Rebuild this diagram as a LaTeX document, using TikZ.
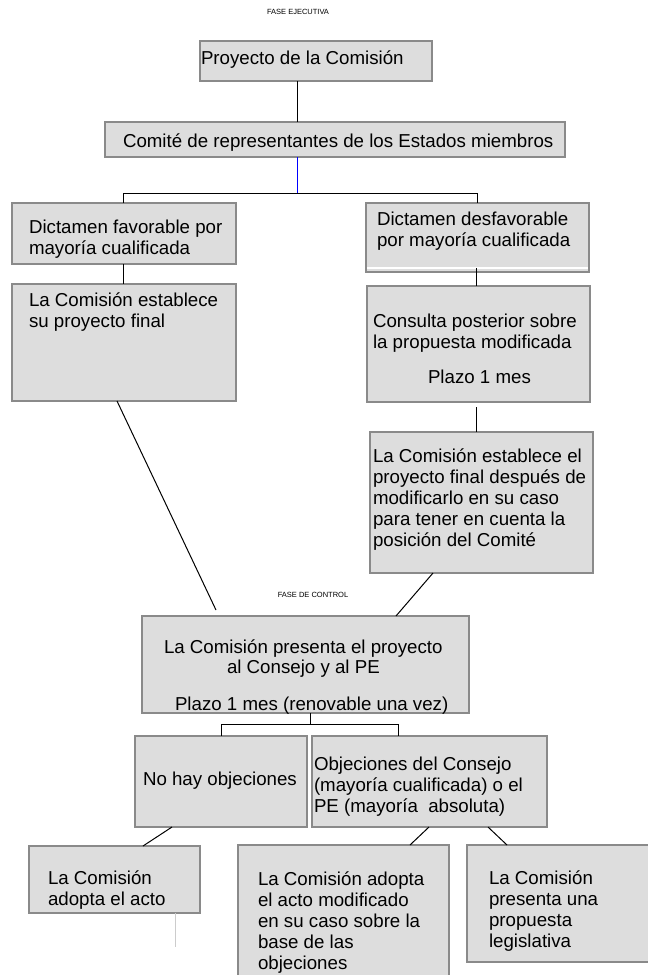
\documentclass[tikz,border=0pt]{standalone}
\usepackage{fontspec}
\setmainfont{Liberation Sans}
\definecolor{boxgray}{HTML}{DDDDDD}
\definecolor{edgegray}{HTML}{8A8A8A}
\definecolor{faintgray}{HTML}{CCCCCC}
\tikzset{
  box/.style={draw=edgegray, line width=1.3pt, fill=boxgray, rectangle, inner sep=0pt, outer sep=0pt, anchor=north west},
  txt/.style={anchor=base west, inner sep=0pt, outer sep=0pt, align=left, font=\fontsize{18.7}{21}\selectfont},
  small/.style={inner sep=0pt, font=\fontsize{7.5}{9}\selectfont},
  conn/.style={draw=black, line width=1pt},
  blueconn/.style={draw=blue, line width=1pt},
  faint/.style={draw=faintgray, line width=0.8pt}
}
\begin{document}
\begin{tikzpicture}[x=1pt,y=-1pt]
\useasboundingbox (0,0) rectangle (648,975);
% boxes
\node[box, minimum width=232pt, minimum height=40pt] (b1) at (200,41) {};
\node[box, minimum width=460pt, minimum height=35pt] (b2) at (105,122) {};
\node[box, minimum width=224pt, minimum height=61pt] (b3) at (12,203) {};
\node[box, minimum width=223pt, minimum height=69pt] (b4) at (366,203) {};
\node[box, minimum width=224pt, minimum height=117pt] (b5) at (12,284) {};
\node[box, minimum width=223pt, minimum height=116pt] (b6) at (367,286) {};
\node[box, minimum width=223pt, minimum height=141pt] (b7) at (370,432) {};
\node[box, minimum width=327pt, minimum height=97pt] (b8) at (142,616) {};
\node[box, minimum width=172pt, minimum height=91pt] (b9) at (135,736) {};
\node[box, minimum width=235pt, minimum height=91pt] (b10) at (312,736) {};
\node[box, minimum width=171pt, minimum height=67pt] (b11) at (29,846) {};
\node[box, minimum width=211pt, minimum height=145pt] (b12) at (238,845) {};
\node[box, minimum width=195pt, minimum height=117pt] (b13) at (467,845) {};
% white stripe inside b4
\draw[white, line width=1.2pt] ([xshift=0.8pt,yshift=4pt]b4.south west) -- ([xshift=-0.8pt,yshift=4pt]b4.south east);
% labels
\node[small] (l1) at (298,12) {FASE EJECUTIVA};
\node[small] (l2) at (313,595) {FASE DE CONTROL};
% texts (anchor = baseline of the last line)
\node[txt] (t1) at (201,64) {Proyecto de la Comisión};
\node[txt] (t2) at (123,147) {Comité de representantes de los Estados miembros};
\node[txt] (t3) at (29,254) {Dictamen favorable por\\mayoría cualificada};
\node[txt] (t4) at (377,246) {Dictamen desfavorable\\por mayoría cualificada};
\node[txt] (t5) at (29,327) {La Comisión establece\\su proyecto final};
\node[txt] (t6) at (373,348) {Consulta posterior sobre\\la propuesta modificada};
\node[txt] (t6b) at (428,383) {Plazo 1 mes};
\node[txt] (t7) at (373,546) {La Comisión establece el\\proyecto final después de\\modificarlo en su caso\\para tener en cuenta la\\posición del Comité};
\node[txt] (t8a) at (164,653) {La Comisión presenta el proyecto};
\node[txt] (t8b) at (227,673) {al Consejo y al PE};
\node[txt] (t8c) at (175,710) {Plazo 1 mes (renovable una vez)};
\node[txt] (t9) at (143,785) {No hay objeciones};
\node[txt] (t10) at (314,812) {Objeciones del Consejo\\(mayoría cualificada) o el\\PE (mayoría\ \ absoluta)};
\node[txt] (t11) at (48,905) {La Comisión\\adopta el acto};
\node[txt] (t12) at (258,969) {La Comisión adopta\\el acto modificado\\en su caso sobre la\\base de las\\objeciones};
\node[txt] (t13) at (489,947) {La Comisión\\presenta una\\propuesta\\legislativa};
% connector coordinates
\coordinate (xa) at (297,0);
\coordinate (j1) at (297,193);
\coordinate (j1l) at (123,193);
\coordinate (j1r) at (477,193);
\coordinate (xb) at (123,0);
\coordinate (xc) at (476,0);
\coordinate (xd) at (117,0);
\coordinate (e1) at (216,610);
\coordinate (xe) at (433,0);
\coordinate (xf) at (396,0);
\coordinate (j2) at (310,724);
\coordinate (j2l) at (221,724);
\coordinate (j2r) at (398,724);
\coordinate (xg) at (172,0);
\coordinate (xh) at (143,0);
\coordinate (xi) at (429,0);
\coordinate (xj) at (410,0);
\coordinate (xk) at (488,0);
\coordinate (xl) at (507,0);
\coordinate (g1) at (175,947);
% connectors
\draw[conn] (b1.south -| xa) -- (b2.north -| xa);
\draw[blueconn] (b2.south -| j1) -- (j1);
\draw[conn] (b3.north -| j1l) -- (j1l) -- (j1r) -- (b4.north -| j1r);
\draw[conn] (b3.south -| xb) -- (b5.north -| xb);
\draw[conn] ([yshift=4pt]b4.south -| xc) -- (b6.north -| xc);
\draw[conn] ([yshift=-5pt]b6.south -| xc) -- (b7.north -| xc);
\draw[conn] (b5.south -| xd) -- (e1);
\draw[conn] (b7.south -| xe) -- (b8.north -| xf);
\draw[conn] (b8.south -| j2) -- (j2);
\draw[conn] (b9.north -| j2l) -- (j2l) -- (j2r) -- (b10.north -| j2r);
\draw[conn] (b9.south -| xg) -- (b11.north -| xh);
\draw[conn] (b10.south -| xi) -- (b12.north -| xj);
\draw[conn] (b10.south -| xk) -- (b13.north -| xl);
\draw[faint] (b11.south -| g1) -- (g1);
\end{tikzpicture}
\end{document}
